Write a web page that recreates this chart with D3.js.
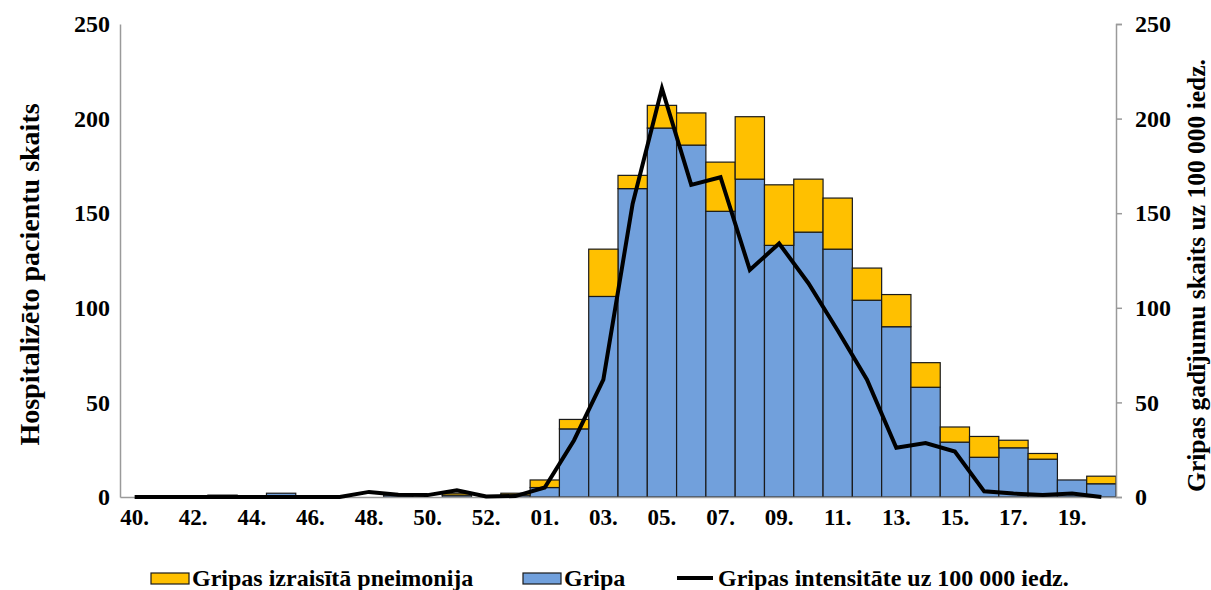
<!DOCTYPE html>
<html>
<head>
<meta charset="utf-8">
<script src="https://cdn.jsdelivr.net/npm/d3@7"></script>
<style>
  html, body { margin: 0; padding: 0; background: #fff; }
  svg text { font-family: "Liberation Serif", "Times New Roman", serif; font-weight: bold; fill: #000; }
</style>
</head>
<body>
<svg id="chart" width="1211" height="590"></svg>
<script>
// Season weeks 40 … 53, 01 … 20
const weeks = ["40","41","42","43","44","45","46","47","48","49","50","51","52","53",
  "01","02","03","04","05","06","07","08","09","10","11","12","13","14","15","16","17","18","19","20"];

// Hospitalised patients: influenza (blue) and influenza pneumonia (yellow)
const gripa = [0,0,0,1,0,2,0,0,0,1,0,1,0,1,
  5,36,106,163,195,186,151,168,133,140,131,104,90,58,29,21,26,20,9,7];
const pneimonija = [0,0,0,0,0,0,0,0,0,0,0,1,0,1,
  4,5,25,7,12,17,26,33,32,28,27,17,17,13,8,11,4,3,0,4];

// Influenza cases per 100 000 inhabitants
const intensitate = [0,0,0,0,0,0,0,0,2.7,1.2,1,3.5,0.3,0.5,
  5,30,62,155,216,165,169,120,134,113,88,62,26,28.5,24,3,1.8,1,1.9,0];

const yTicks = [0, 50, 100, 150, 200, 250];
const tickWeeks = weeks.filter((d, i) => i % 2 === 0);

const seriesNames = ["Gripas izraisītā pneimonija", "Gripa", "Gripas intensitāte uz 100 000 iedz."];
const colors = { gripa: "#71A0DC", pneimonija: "#FFC000", line: "#000" };

const svg = d3.select("#chart");
const margin = { left: 120, right: 95, top: 24, bottom: 93 };
const W = 1211, H = 590;
const innerW = W - margin.left - margin.right;
const innerH = H - margin.top - margin.bottom;

const x = d3.scaleBand().domain(weeks).range([margin.left, margin.left + innerW]).padding(0);
const yL = d3.scaleLinear().domain([0, 250]).range([margin.top + innerH, margin.top]);
const yR = d3.scaleLinear().domain([0, 250]).range([margin.top + innerH, margin.top]);

const rows = weeks.map((w, i) => ({ week: w, gripa: gripa[i], pneimonija: pneimonija[i] }));
const stacked = d3.stack().keys(["gripa", "pneimonija"])(rows);

// Stacked bars
svg.append("g").selectAll("g")
  .data(stacked)
  .join("g")
  .attr("fill", d => colors[d.key])
  .selectAll("rect")
  .data(d => d.filter(s => s[1] - s[0] > 0))
  .join("rect")
  .attr("x", d => x(d.data.week))
  .attr("y", d => yL(d[1]))
  .attr("width", x.bandwidth())
  .attr("height", d => yL(d[0]) - yL(d[1]))
  .attr("stroke", "#1a1a1a")
  .attr("stroke-width", 1.2);

// Left axis: line only, labels without tick marks
const axisL = svg.append("g")
  .attr("transform", `translate(${margin.left},0)`)
  .call(d3.axisLeft(yL).tickValues(yTicks).tickSize(0).tickPadding(10));
axisL.select(".domain").attr("stroke", "#9a9a9a").attr("stroke-width", 1.5);
axisL.selectAll("text").attr("font-size", 24).attr("font-family", null);

// Right axis with outward ticks
const axisR = svg.append("g")
  .attr("transform", `translate(${margin.left + innerW},0)`)
  .call(d3.axisRight(yR).tickValues(yTicks).tickSize(6).tickPadding(13));
axisR.select(".domain").attr("stroke", "#9a9a9a").attr("stroke-width", 1.5);
axisR.selectAll(".tick line").attr("stroke", "#9a9a9a").attr("stroke-width", 1.5);
axisR.selectAll("text").attr("font-size", 24).attr("font-family", null);

// Bottom axis
const axisB = svg.append("g")
  .attr("transform", `translate(0,${margin.top + innerH})`)
  .call(d3.axisBottom(x).tickValues(tickWeeks).tickSize(0).tickPadding(12).tickFormat(d => d + "."));
axisB.select(".domain").attr("stroke", "#9a9a9a").attr("stroke-width", 1.5);
axisB.selectAll("text").attr("font-size", 23).attr("font-family", null);

// Intensity line on the right scale
const line = d3.line()
  .x((d, i) => x(weeks[i]) + x.bandwidth() / 2)
  .y(d => yR(d));
svg.append("path")
  .datum(intensitate)
  .attr("fill", "none")
  .attr("stroke", colors.line)
  .attr("stroke-width", 4)
  .attr("stroke-linejoin", "miter")
  .attr("d", line);

// Axis titles
svg.append("text")
  .attr("transform", `translate(39,${margin.top + innerH / 2 + 14}) rotate(-90)`)
  .attr("text-anchor", "middle")
  .attr("font-size", 28)
  .text("Hospitalizēto pacientu skaits");

svg.append("text")
  .attr("transform", `translate(1205,${margin.top + innerH / 2 + 15}) rotate(-90)`)
  .attr("text-anchor", "middle")
  .attr("font-size", 25.5)
  .text("Gripas gadījumu skaits uz 100 000 iedz.");

// Legend
const legend = svg.append("g").attr("transform", "translate(0,578)");
const legendItems = [
  { name: seriesNames[0], type: "rect", color: colors.pneimonija, x: 151 },
  { name: seriesNames[1], type: "rect", color: colors.gripa, x: 523 },
  { name: seriesNames[2], type: "line", color: colors.line, x: 677 }
];
legendItems.forEach(it => {
  if (it.type === "rect") {
    legend.append("rect")
      .attr("x", it.x).attr("y", -5).attr("width", 38).attr("height", 11)
      .attr("fill", it.color).attr("stroke", "#1a1a1a").attr("stroke-width", 1.2);
  } else {
    legend.append("line")
      .attr("x1", it.x).attr("x2", it.x + 36).attr("y1", 0).attr("y2", 0)
      .attr("stroke", it.color).attr("stroke-width", 4);
  }
  legend.append("text")
    .attr("x", it.x + 41).attr("y", 8)
    .attr("font-size", 24)
    .text(it.name);
});
</script>
</body>
</html>
